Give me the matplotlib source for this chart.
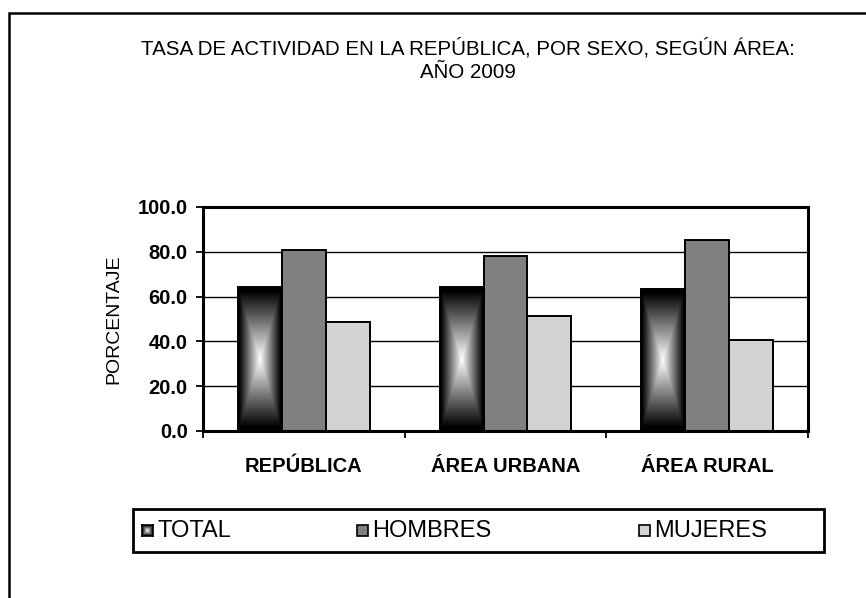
import matplotlib.pyplot as plt
from matplotlib.patches import Rectangle
import numpy as np

# Data
TITLE = "TASA DE ACTIVIDAD EN LA REPÚBLICA, POR SEXO, SEGÚN ÁREA:\nAÑO 2009"
CATEGORIES = ["REPÚBLICA", "ÁREA URBANA", "ÁREA RURAL"]
SERIES = ["TOTAL", "HOMBRES", "MUJERES"]
TOTAL = [64.2, 64.2, 63.3]
HOMBRES = [80.9, 78.2, 85.3]
MUJERES = [48.6, 51.3, 40.8]
Y_TICKS = [0, 20, 40, 60, 80, 100]

plt.rcParams['font.family'] = ['Liberation Sans', 'DejaVu Sans']

W, H = 866, 598
BAR_W = 0.218


def fx(px):
    return px / W


def fy(py):
    return 1 - py / H


def gradient(n=200, m=200):
    # "from center" rectangular gradient: dark edges, white centre
    u = np.linspace(-1, 1, m)
    v = np.linspace(-1, 1, n)
    uu, vv = np.meshgrid(u, v)
    return 1 - np.maximum(np.abs(uu), np.abs(vv))


def main():
    fig = plt.figure(figsize=(W / 100, H / 100), dpi=100)

    # outer frame of the chart
    fig.patches.append(Rectangle((fx(9), -0.05), 1.2, fy(13) + 0.05, transform=fig.transFigure,
                                 fill=False, edgecolor="black", linewidth=1.8))

    fig.text(fx(468), fy(60), TITLE, ha="center", va="center", fontsize=14.8, linespacing=1.25)

    ax = fig.add_axes([fx(203), fy(431), fx(808) - fx(203), fy(207) - fy(431)])
    x = np.arange(len(CATEGORIES))
    values = [TOTAL, HOMBRES, MUJERES]
    colors = [None, "#808080", "#d3d3d3"]
    grad = gradient()
    for i, (vals, col) in enumerate(zip(values, colors)):
        pos = x + (i - 1) * BAR_W
        if col is None:
            bars = ax.bar(pos, vals, BAR_W, facecolor="none", edgecolor="black", linewidth=1.4, zorder=4)
            for b in bars:
                ax.imshow(grad, cmap="gray", vmin=0.05, vmax=1.0, aspect="auto", interpolation="bilinear",
                          extent=(b.get_x(), b.get_x() + b.get_width(), 0, b.get_height()), zorder=3)
        else:
            ax.bar(pos, vals, BAR_W, color=col, edgecolor="black", linewidth=1.4, zorder=3)

    ax.set_xlim(-0.5, len(CATEGORIES) - 0.5)
    ax.set_ylim(0, 100)
    ax.set_yticks(Y_TICKS)
    ax.set_yticklabels([f"{t:.1f}" for t in Y_TICKS], fontsize=14.5, fontweight="bold")
    ax.tick_params(axis="y", direction="out", length=5, width=1.3, pad=6)
    ax.set_xticks(x)
    ax.set_xticklabels(CATEGORIES, fontsize=14.5, fontweight="bold")
    ax.tick_params(axis="x", which="major", length=0, pad=19)
    ax.set_xticks(np.arange(-0.5, len(CATEGORIES)), minor=True)
    ax.tick_params(axis="x", which="minor", direction="out", length=5, width=1.3)
    ax.grid(axis="y", color="black", linewidth=1.0, zorder=1)
    ax.set_axisbelow(True)
    for s in ax.spines.values():
        s.set_linewidth(2.2)
        s.set_zorder(6)
    ax.set_ylabel("PORCENTAJE", fontsize=14)
    ax.yaxis.set_label_coords(-0.134, 0.5)

    # legend
    fig.patches.append(Rectangle((fx(133), fy(552)), fx(824) - fx(133), fy(509) - fy(552),
                                 transform=fig.transFigure, facecolor="none", edgecolor="black",
                                 linewidth=2.0))
    marker_x = [142, 357, 639]
    for name, col, mx in zip(SERIES, colors, marker_x):
        if col is None:
            lax = fig.add_axes([fx(mx), fy(536), fx(11), fy(525) - fy(536)])
            lax.imshow(grad, cmap="gray", vmin=0.05, vmax=1.0, aspect="auto")
            lax.set_xticks([])
            lax.set_yticks([])
            for s in lax.spines.values():
                s.set_linewidth(1.2)
        else:
            fig.patches.append(Rectangle((fx(mx), fy(536)), fx(11), fy(525) - fy(536),
                                         transform=fig.transFigure, facecolor=col,
                                         edgecolor="black", linewidth=1.2))
        fig.text(fx(mx + 15), fy(531), name, ha="left", va="center", fontsize=17)

    fig.savefig("out.png", dpi=100)


if __name__ == "__main__":
    main()
